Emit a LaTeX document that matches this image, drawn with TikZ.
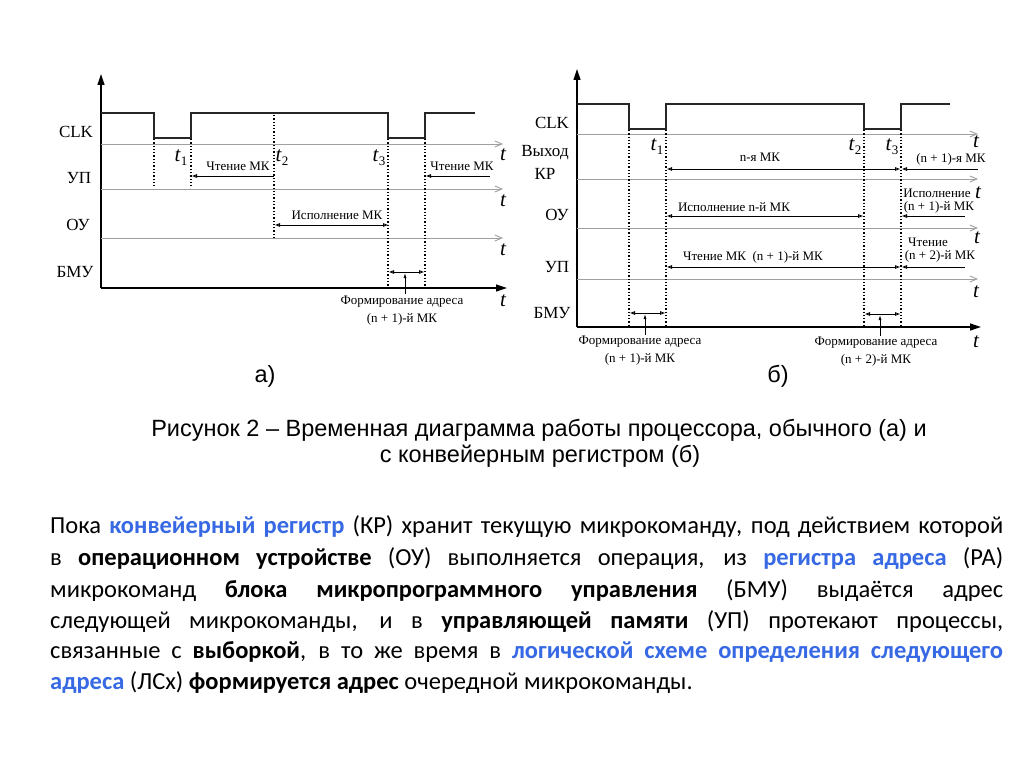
\documentclass[tikz,border=0pt]{standalone}
\usepackage{fontspec}
\setmainfont{Liberation Serif}
\newfontfamily\calib{Carlito}
\newfontfamily\arialf{Liberation Sans}
\usetikzlibrary{arrows.meta}
\definecolor{kblue}{RGB}{55,105,228}
\definecolor{axgray}{RGB}{160,160,160}
\newcommand{\kb}[1]{\textcolor{kblue}{\textbf{#1}}}
\newcommand{\bb}[1]{\textbf{#1}}
\newcommand{\tsub}[1]{\textit{t}\raisebox{-4pt}{\fontsize{13}{13}\selectfont #1}}
\begin{document}
\begin{tikzpicture}[x=1pt,y=-1pt,
  sig/.style={line width=1.4pt, black!85},
  axis/.style={line width=1.2pt, -{Triangle[length=11pt,width=7pt]}},
  gax/.style={line width=0.9pt, axgray, -{Straight Barb[length=7pt,width=6pt]}},
  dots/.style={line width=1.3pt, dotted, black},
  iv/.style={line width=0.9pt, black, {Triangle[open,length=5pt,width=3.5pt]}-{Triangle[open,length=5pt,width=3.5pt]}},
  ivl/.style={line width=0.9pt, black, {Triangle[open,length=5pt,width=3.5pt]}-},
  up/.style={line width=0.8pt, -{Latex[length=5pt,width=3pt]}},
  lab/.style={font=\fontsize{17}{17}\selectfont, inner sep=0},
  sm/.style={font=\fontsize{13}{13}\selectfont, inner sep=0},
  tl/.style={font=\fontsize{21}{21}\selectfont\itshape, inner sep=0},
  tn/.style={font=\fontsize{21}{21}\selectfont, inner sep=0},
  captxt/.style={font=\arialf\fontsize{23.5}{23.5}\selectfont, inner sep=0},
  para/.style={font=\calib\fontsize{24.5}{28}\selectfont, inner sep=0, anchor=base west},
]
\useasboundingbox (0,0) rectangle (1024,767);
\fill[white] (0,0) rectangle (1024,767);

% ================= diagram (a) =================
\coordinate (aO) at (101,288);
\coordinate (aT) at (101,74);
\coordinate (aR) at (507,288);
\draw[axis] (aO) -- (aT);
\draw[axis] (aO) -- (aR);
\foreach \y in {144,189,238} \draw[gax] (101,\y) -- (503,\y);
\node[tl] (at1) at (503,155) {t};
\node[tl] (at2) at (503,201) {t};
\node[tl] (at3) at (503,250) {t};
\node[tl] (at4) at (503,301) {t};
\draw[sig] (101,113) -- (154,113) -- (154,138) -- (191,138) -- (191,113) -- (388,113) -- (388,138) -- (425,138) -- (425,113) -- (475,113);
\draw[dots] (154,139) -- (154,187);
\draw[dots] (191,139) -- (191,187);
\draw[dots] (274,115) -- (274,238);
\draw[dots] (388,139) -- (388,288);
\draw[dots] (425,139) -- (425,288);
\node[tn] (aT1) at (181,158) {\tsub{1}};
\node[tn] (aT2) at (282,158) {\tsub{2}};
\node[tn] (aT3) at (379,158) {\tsub{3}};
\draw[ivl] (192,176) -- (274,176);
\node[sm] (ar1) at (238,166) {Чтение МК};
\draw[ivl] (426,176) -- (490,176);
\node[sm] (ar2) at (462,166) {Чтение МК};
\draw[iv] (275,225) -- (388,225);
\node[sm] (ae1) at (337,215) {Исполнение МК};
\draw[iv] (389,272) -- (424,272);
\draw[up] (405,294) -- (405,273);
\node[sm] (af1) at (402,302) {Формирование адреса};
\node[sm] (af2) at (402,319) {(n + 1)-й МК};
\node[lab] (aCLK) at (76,132) {CLK};
\node[lab] (aUP) at (79,178) {УП};
\node[lab] (aOU) at (78,225) {ОУ};
\node[lab] (aBMU) at (75,272) {БМУ};

% ================= diagram (b) =================
\coordinate (bO) at (577,327);
\coordinate (bT) at (577,69);
\coordinate (bR) at (981,327);
\draw[axis] (bO) -- (bT);
\draw[axis] (bO) -- (bR);
\foreach \y in {134,179,228,279} \draw[gax] (577,\y) -- (978,\y);
\node[tl] (bt1) at (976,142) {t};
\node[tl] (bt2) at (978,193) {t};
\node[tl] (bt3) at (977,238) {t};
\node[tl] (bt4) at (976,292) {t};
\node[tl] (bt5) at (976,342) {t};
\draw[sig] (577,104) -- (629,104) -- (629,129) -- (666,129) -- (666,104) -- (864,104) -- (864,129) -- (901,129) -- (901,104) -- (950,104);
\foreach \x in {629,666,864,901} \draw[dots] (\x,130) -- (\x,327);
\node[tn] (bT1) at (657,147) {\tsub{1}};
\node[tn] (bT2) at (855,147) {\tsub{2}};
\node[tn] (bT3) at (892,147) {\tsub{3}};
% Выход КР
\draw[iv] (667,169) -- (900,169);
\draw[ivl] (902,169) -- (978,169);
\node[sm] (bn1) at (760,157) {n-я МК};
\node[sm] (bn2) at (951,159) {(n + 1)-я МК};
% ОУ
\draw[iv] (667,216) -- (863,216);
\draw[ivl] (902,216) -- (965,216);
\node[sm] (be1) at (734,207) {Исполнение n-й МК};
\node[sm] (be2) at (937,193) {Исполнение};
\node[sm] (be3) at (939,207) {(n + 1)-й МК};
% УП
\draw[iv] (667,267) -- (900,267);
\draw[ivl] (902,267) -- (965,267);
\node[sm] (br1) at (753,257) {Чтение МК\ \ (n + 1)-й МК};
\node[sm] (br2) at (928,242) {Чтение};
\node[sm] (br3) at (940,256) {(n + 2)-й МК};
% БМУ
\draw[iv] (630,313) -- (665,313);
\draw[up] (645,335) -- (645,314);
\node[sm] (bf1) at (640,342) {Формирование адреса};
\node[sm] (bf2) at (640,359) {(n + 1)-й МК};
\draw[iv] (865,314) -- (900,314);
\draw[up] (880,336) -- (880,315);
\node[sm] (bf3) at (876,343) {Формирование адреса};
\node[sm] (bf4) at (876,360) {(n + 2)-й МК};
\node[lab] (bCLK) at (552,123) {CLK};
\node[lab] (bV) at (545,153) {Выход};
\node[lab] (bKR) at (545,174) {КР};
\node[lab] (bOU) at (557,215) {ОУ};
\node[lab] (bUP) at (557,267) {УП};
\node[lab] (bBMU) at (552,313) {БМУ};

% ================= captions =================
\node[captxt] (ca) at (265,376) {а)};
\node[captxt] (cb) at (778,376) {б)};
\node[captxt] (c1) at (539,430) {Рисунок 2 – Временная диаграмма работы процессора, обычного (а) и};
\node[captxt] (c2) at (540,456) {с конвейерным регистром (б)};

% ================= paragraph =================
\node[para] (p1) at (50,533) {\makebox[953pt][s]{Пока \kb{конвейерный регистр} (КР) хранит текущую микрокоманду, под действием которой}};
\node[para] (p2) at (50,565) {\makebox[953pt][s]{в \bb{операционном устройстве} (ОУ) выполняется операция, из \kb{регистра адреса} (РА)}};
\node[para] (p3) at (50,597) {\makebox[953pt][s]{микрокоманд \bb{блока микропрограммного управления} (БМУ) выдаётся адрес}};
\node[para] (p4) at (50,628) {\makebox[953pt][s]{следующей микрокоманды, и в \bb{управляющей памяти} (УП) протекают процессы,}};
\node[para] (p5) at (50,658) {\makebox[953pt][s]{связанные с \bb{выборкой}, в то же время в \kb{логической схеме определения следующего}}};
\node[para] (p6) at (50,689) {\kb{адреса} (ЛСх) \bb{формируется адрес} очередной микрокоманды.};
\end{tikzpicture}
\end{document}
